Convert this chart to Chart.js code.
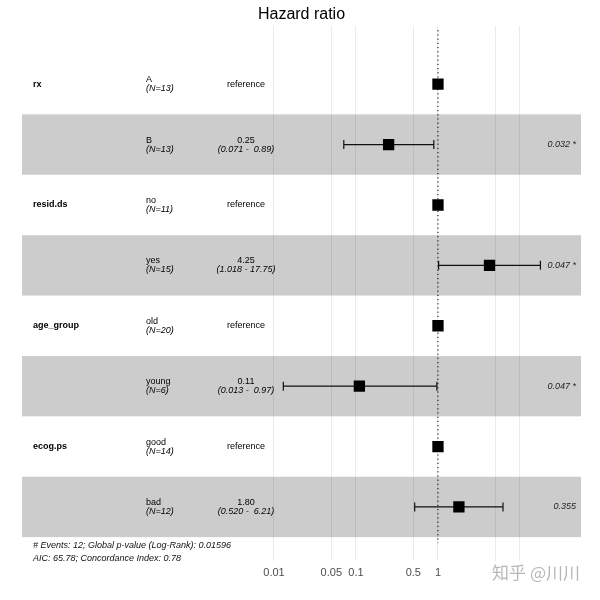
<!DOCTYPE html>
<html>
<head>
<meta charset="utf-8">
<script src="https://cdn.jsdelivr.net/npm/chart.js@4.4.0/dist/chart.umd.min.js"></script>
<style>
  html, body { margin: 0; padding: 0; background: #fff; }
</style>
</head>
<body>
<canvas id="myChart" width="600" height="600"></canvas>
<script>
// one entry per row of the forest plot
var varNames  = ['rx', '', 'resid.ds', '', 'age_group', '', 'ecog.ps', ''];
var levels    = ['A', 'B', 'no', 'yes', 'old', 'young', 'good', 'bad'];
var nCounts   = [13, 13, 11, 15, 20, 6, 14, 12];
var hr        = [1, 0.25, 1, 4.25, 1, 0.11, 1, 1.80];
var ciLow     = [null, 0.071, null, 1.018, null, 0.013, null, 0.520];
var ciHigh    = [null, 0.89, null, 17.75, null, 0.97, null, 6.21];
var estLabels = ['reference', '0.25', 'reference', '4.25', 'reference', '0.11', 'reference', '1.80'];
var ciLabels  = ['', '(0.071 -  0.89)', '', '(1.018 - 17.75)', '', '(0.013 -  0.97)', '', '(0.520 -  6.21)'];
var pLabels   = ['', '0.032 *', '', '0.047 *', '', '0.047 *', '', '0.355'];

var tickValues = [0.01, 0.05, 0.1, 0.5, 1, 5, 10];
var tickLabels = ['0.01', '0.05', '0.1', '0.5', '1', '', ''];

var footer = [
  '# Events: 12; Global p-value (Log-Rank): 0.01596',
  'AIC: 65.78; Concordance Index: 0.78'
];
var watermark = '知乎 @川川';

var FONT = "'Liberation Sans', Arial, sans-serif";

var forestPlugin = {
  id: 'forest',
  beforeDatasetsDraw: function(chart) {
    var c = chart.ctx, area = chart.chartArea;
    var xs = chart.scales.x, ys = chart.scales.y;
    c.save();

    // alternating stripes, drawn over the grid
    c.fillStyle = 'rgba(0,0,0,0.2)';
    levels.forEach(function(l, i) {
      if (i % 2 === 1) {
        var top = ys.getPixelForValue(i - 0.5);
        var bot = ys.getPixelForValue(i + 0.5);
        c.fillRect(area.left, top, area.right - area.left, bot - top);
      }
    });

    // dotted reference line at HR = 1
    var x1 = xs.getPixelForValue(1);
    c.strokeStyle = '#000';
    c.lineWidth = 1;
    c.setLineDash([1.2, 3]);
    c.beginPath();
    c.moveTo(x1, area.top + 4);
    c.lineTo(x1, ys.getPixelForValue(levels.length - 0.5) + 6);
    c.stroke();
    c.setLineDash([]);

    // confidence intervals
    c.strokeStyle = '#111';
    c.lineWidth = 1.2;
    levels.forEach(function(l, i) {
      if (ciLow[i] == null) return;
      var y = ys.getPixelForValue(i);
      var a = xs.getPixelForValue(ciLow[i]);
      var b = xs.getPixelForValue(ciHigh[i]);
      c.beginPath();
      c.moveTo(a, y); c.lineTo(b, y);
      c.moveTo(a, y - 4.5); c.lineTo(a, y + 4.5);
      c.moveTo(b, y - 4.5); c.lineTo(b, y + 4.5);
      c.stroke();
    });

    // table text
    c.fillStyle = '#000';
    c.textBaseline = 'middle';
    levels.forEach(function(l, i) {
      var y = ys.getPixelForValue(i);
      if (varNames[i]) {
        c.font = 'bold 9px ' + FONT;
        c.textAlign = 'left';
        c.fillText(varNames[i], area.left + 11, y);
      }
      c.textAlign = 'left';
      c.font = '9px ' + FONT;
      c.fillText(l, area.left + 124, y - 4.5);
      c.font = 'italic 9px ' + FONT;
      c.fillText('(N=' + nCounts[i] + ')', area.left + 124, y + 4.5);

      c.textAlign = 'center';
      if (ciLabels[i]) {
        c.font = '9px ' + FONT;
        c.fillText(estLabels[i], area.left + 224, y - 4.5);
        c.font = 'italic 9px ' + FONT;
        c.fillText(ciLabels[i], area.left + 224, y + 4.5);
      } else {
        c.font = '9px ' + FONT;
        c.fillText(estLabels[i], area.left + 224, y);
      }

      if (pLabels[i]) {
        c.textAlign = 'right';
        c.font = 'italic 9px ' + FONT;
        c.fillStyle = '#222';
        c.fillText(pLabels[i], area.right - 5, y);
        c.fillStyle = '#000';
      }
    });

    // footer notes
    var yEnd = ys.getPixelForValue(levels.length - 0.5);
    c.textAlign = 'left';
    c.font = 'italic 9px ' + FONT;
    c.fillStyle = '#111';
    footer.forEach(function(t, k) {
      c.fillText(t, area.left + 11, yEnd + 8 + k * 13);
    });
    c.restore();
  },
  afterDraw: function(chart) {
    var c = chart.ctx;
    c.save();
    c.font = "17px 'Noto Sans CJK SC', sans-serif";
    c.textAlign = 'right';
    c.textBaseline = 'middle';
    c.fillStyle = 'rgba(170,170,170,0.85)';
    c.fillText(watermark, 580, 573);
    c.restore();
  }
};

var chart_params = {
  type: 'scatter',
  data: {
    datasets: [{
      data: hr.map(function(v, i) { return { x: v, y: i }; }),
      pointStyle: 'rect',
      pointRadius: 8,
      pointHoverRadius: 8,
      backgroundColor: '#000',
      borderColor: '#000',
      borderWidth: 0
    }]
  },
  options: {
    responsive: false,
    animation: false,
    layout: {
      padding: { left: 22, right: 19, top: 0, bottom: 15.5 }
    },
    plugins: {
      legend: { display: false },
      tooltip: { enabled: false },
      title: {
        display: true,
        text: 'Hazard ratio',
        color: '#000',
        font: { family: FONT, size: 16, weight: 'normal' },
        padding: { top: 5, bottom: 2 }
      }
    },
    scales: {
      x: {
        type: 'logarithmic',
        min: 8.45e-6,
        max: 55.5,
        afterBuildTicks: function(scale) {
          scale.ticks = tickValues.map(function(v) { return { value: v }; });
        },
        ticks: {
          autoSkip: false,
          maxRotation: 0,
          padding: 5,
          color: '#4d4d4d',
          font: { family: FONT, size: 11 },
          callback: function(v, i) { return tickLabels[i]; }
        },
        grid: {
          color: '#ebebeb',
          lineWidth: 1,
          drawTicks: false
        },
        border: { display: false }
      },
      y: {
        type: 'linear',
        display: false,
        reverse: true,
        min: -0.96,
        max: 7.9
      }
    }
  },
  plugins: [forestPlugin]
};

var myChart = new Chart(document.getElementById("myChart"), chart_params);
</script>
</body>
</html>
